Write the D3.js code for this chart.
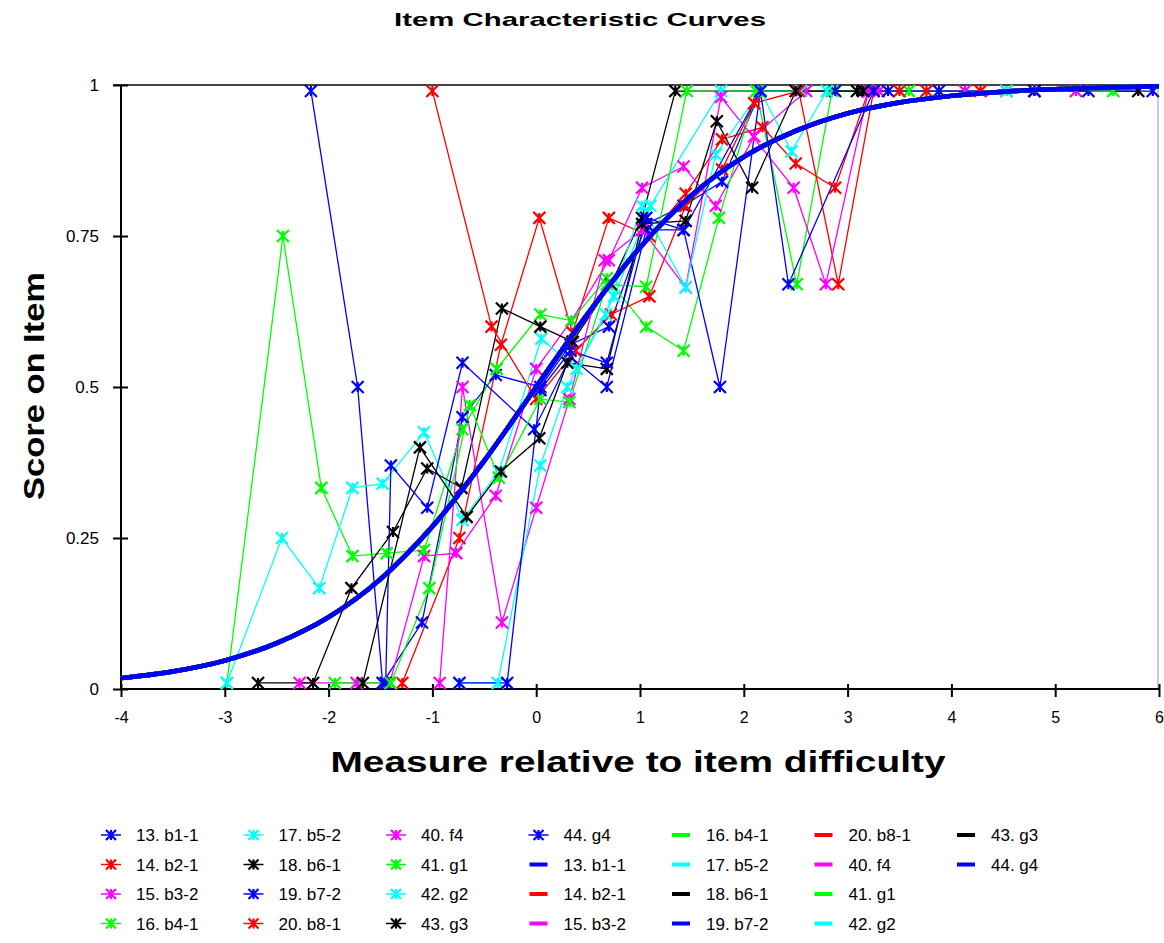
<!DOCTYPE html>
<html>
<head>
<meta charset="utf-8">
<script src="https://cdn.jsdelivr.net/npm/d3@7"></script>
<style>
  html, body { margin: 0; padding: 0; background: #fff; }
  svg { display: block; }
  text { font-family: "Liberation Sans", Arial, sans-serif; }
</style>
</head>
<body>
<svg id="chart" width="1164" height="943"></svg>
<script>
// ---------- DATA ----------
const seriesNames = ["13. b1-1","14. b2-1","15. b3-2","16. b4-1","17. b5-2","18. b6-1","19. b7-2","20. b8-1","40. f4","41. g1","42. g2","43. g3","44. g4"];
const seriesColors = ["#0000ff","#ff0000","#ff00ff","#00ff00","#00ffff","#000000","#0000ff","#ff0000","#ff00ff","#00ff00","#00ffff","#000000","#0000ff"];

// observed scores: [measure, score]
const s13 = [[-2.17,0.99],[-1.72,0.50],[-1.48,0.01],[-1.10,0.11],[-0.71,0.45],[-0.39,0.52],[0.04,0.50],[0.33,0.57],[0.70,0.60],[1.06,0.77],[1.42,0.80],[1.79,0.84],[2.16,0.99],[3.20,0.99],[3.88,0.99]];
const s14 = [[-1.29,0.01],[-0.74,0.25],[-0.34,0.57],[0.03,0.78],[0.35,0.59],[0.70,0.78],[1.09,0.75],[1.44,0.82],[1.79,0.91],[2.18,0.93],[2.50,0.87],[2.88,0.83],[3.20,0.99],[3.76,0.99],[4.53,0.99]];
const s15 = [[-2.28,0.01],[-1.73,0.01],[-1.41,0.01],[-1.08,0.22],[-0.77,0.225],[-0.39,0.32],[0.00,0.53],[0.34,0.61],[0.70,0.71],[1.02,0.83],[1.42,0.865],[1.73,0.80],[2.10,0.915],[2.60,0.99],[3.30,0.99],[4.13,0.99]];
const s16 = [[-2.98,0.01],[-2.44,0.75],[-2.07,0.333],[-1.77,0.22],[-1.44,0.225],[-1.08,0.23],[-0.71,0.43],[-0.38,0.53],[0.04,0.62],[0.34,0.61],[0.68,0.68],[1.06,0.60],[1.42,0.56],[1.76,0.78],[2.12,0.99],[2.51,0.67],[2.85,0.99],[3.59,0.99]];
const s17 = [[-2.98,0.01],[-2.45,0.25],[-2.09,0.167],[-1.77,0.333],[-1.48,0.34],[-1.08,0.425],[-0.71,0.28],[-0.36,0.36],[0.05,0.58],[0.39,0.53],[0.75,0.65],[1.10,0.80],[1.78,0.99],[2.55,0.99],[4.53,0.99]];
const s18 = [[-2.68,0.01],[-2.15,0.01],[-1.78,0.167],[-1.38,0.26],[-1.05,0.365],[-0.72,0.333],[-0.33,0.63],[0.04,0.60],[0.35,0.575],[0.72,0.67],[1.02,0.78],[1.34,0.99],[3.09,0.99],[4.80,0.99],[5.80,0.99]];
const s19 = [[-1.45,0.01],[-1.40,0.37],[-1.05,0.30],[-0.71,0.54],[-0.02,0.43],[0.33,0.55],[0.68,0.50],[1.06,0.76],[1.42,0.76],[1.77,0.50],[2.16,0.99],[2.88,0.99],[3.39,0.99],[4.80,0.99],[5.94,0.99]];
const s20 = [[-1.00,0.99],[-0.43,0.60],[0.00,0.48],[0.38,0.56],[0.72,0.62],[1.09,0.65],[1.44,0.80],[1.79,0.86],[2.10,0.97],[2.53,0.99],[2.91,0.67],[3.25,0.99],[3.50,0.99],[4.28,0.99]];
const s40 = [[-0.93,0.01],[-0.71,0.50],[-0.33,0.11],[0.00,0.30],[0.32,0.48],[0.66,0.71],[1.02,0.76],[1.44,0.665],[1.78,0.98],[2.48,0.83],[2.79,0.67],[3.20,0.99],[5.20,0.99]];
const s41 = [[-1.94,0.01],[-1.40,0.01],[-1.03,0.167],[-0.64,0.47],[-0.36,0.35],[0.04,0.48],[0.32,0.475],[0.68,0.67],[1.06,0.666],[1.45,0.99],[2.15,0.99],[5.56,0.99]];
const s42 = [[-0.74,0.01],[-0.37,0.01],[0.04,0.37],[0.30,0.50],[0.67,0.62],[1.02,0.80],[1.44,0.665],[1.73,0.885],[2.16,0.99],[2.46,0.89],[2.80,0.99]];
const s43 = [[-1.67,0.01],[-1.12,0.40],[-0.67,0.285],[-0.34,0.36],[0.03,0.415],[0.30,0.54],[0.68,0.53],[1.02,0.77],[1.44,0.775],[1.74,0.94],[2.08,0.83],[2.50,0.99],[3.15,0.99]];
const s44 = [[-0.74,0.01],[-0.28,0.01],[0.04,0.495],[0.33,0.56],[0.68,0.54],[1.06,0.78],[1.42,0.76],[2.16,0.99],[2.43,0.67],[3.25,0.99],[5.32,0.99]];
const observed = [s13,s14,s15,s16,s17,s18,s19,s20,s40,s41,s42,s43,s44];

// model curve
const modelX = [-4,-3.5,-3,-2.5,-2,-1.5,-1,-0.5,0,0.5,1,1.5,2,2.5,3,3.5,4,4.5,5,5.5,6];
const modelY = [0.018,0.029,0.047,0.076,0.119,0.182,0.269,0.378,0.5,0.622,0.731,0.818,0.881,0.924,0.953,0.971,0.982,0.989,0.993,0.996,0.998];

const xTicks = [-4,-3,-2,-1,0,1,2,3,4,5,6];
const yTicks = [0,0.25,0.5,0.75,1];

// ---------- DRAW ----------
const svg = d3.select("#chart");
const x = d3.scaleLinear().domain([-4,6]).range([121,1159]);
const y = d3.scaleLinear().domain([0,1]).range([689,85]);

// title
svg.append("text").attr("x",580).attr("y",26).attr("text-anchor","middle")
  .attr("font-size",19).attr("font-weight","bold")
  .attr("textLength",372).attr("lengthAdjust","spacingAndGlyphs")
  .text("Item Characteristic Curves");

// frame (top and right)
svg.append("line").attr("x1",113).attr("x2",1159).attr("y1",y(1)).attr("y2",y(1))
  .attr("stroke","#444").attr("stroke-width",2);
svg.append("line").attr("x1",1158).attr("x2",1158).attr("y1",y(1)).attr("y2",y(0))
  .attr("stroke","#999").attr("stroke-width",1);

// axes
const yAxis = svg.append("g").attr("transform",`translate(${x(-4)},0)`)
  .call(d3.axisLeft(y).tickValues(yTicks).tickSize(7).tickFormat(d => String(d)));
yAxis.select(".domain").remove();
yAxis.selectAll(".tick line").attr("x1",-8).attr("x2",7).attr("stroke","#000").attr("stroke-width",2);
yAxis.selectAll(".tick text").attr("x",-22).attr("font-size",17).attr("font-family","Liberation Sans, Arial, sans-serif").attr("fill","#000");

const xAxis = svg.append("g").attr("transform",`translate(0,${y(0)})`)
  .call(d3.axisBottom(x).tickValues(xTicks).tickSize(7).tickFormat(d => String(d)));
xAxis.select(".domain").remove();
xAxis.selectAll(".tick line").attr("y1",-5).attr("y2",8).attr("stroke","#000").attr("stroke-width",2);
xAxis.selectAll(".tick text").attr("y",23).attr("font-size",16).attr("font-family","Liberation Sans, Arial, sans-serif").attr("fill","#000");

svg.append("line").attr("x1",x(-4)).attr("x2",x(-4)).attr("y1",y(1)).attr("y2",y(0)+1)
  .attr("stroke","#000").attr("stroke-width",2);
svg.append("line").attr("x1",x(-4)-1).attr("x2",x(6)).attr("y1",y(0)).attr("y2",y(0))
  .attr("stroke","#000").attr("stroke-width",2);

// axis titles
svg.append("text").attr("x",638).attr("y",772).attr("text-anchor","middle")
  .attr("font-size",30).attr("font-weight","bold")
  .attr("textLength",615).attr("lengthAdjust","spacingAndGlyphs")
  .text("Measure relative to item difficulty");
svg.append("text").attr("transform","translate(44,386) rotate(-90)").attr("text-anchor","middle")
  .attr("font-size",30).attr("font-weight","bold")
  .attr("textLength",228).attr("lengthAdjust","spacingAndGlyphs")
  .text("Score on Item");

const starPath = "M-6,-6L6,6M-6,6L6,-6M0,-5L0,5";
const line = d3.line().x(d => x(d[0])).y(d => y(d[1]));

// observed series
const plot = svg.append("g");
observed.forEach((pts,i) => {
  plot.append("path").attr("d",line(pts)).attr("fill","none")
    .attr("stroke",seriesColors[i]).attr("stroke-width",1.3);
});
observed.forEach((pts,i) => {
  plot.selectAll(null).data(pts).enter().append("path")
    .attr("d",starPath)
    .attr("transform",d => `translate(${x(d[0])},${y(d[1])})`)
    .attr("fill","none").attr("stroke",seriesColors[i]).attr("stroke-width",2.2);
});

// model curves (one per item, all coincide)
const model = modelX.map((v,k) => [v, modelY[k]]);
const curve = d3.line().x(d => x(d[0])).y(d => y(d[1])).curve(d3.curveMonotoneX);
seriesNames.forEach((n,i) => {
  plot.append("path").attr("d",curve(model)).attr("fill","none")
    .attr("stroke",seriesColors[i]).attr("stroke-width",4.5);
});

// legend
const legendItems = [];
seriesNames.forEach((n,i) => legendItems.push({name:n,color:seriesColors[i],type:"marker"}));
seriesNames.forEach((n,i) => legendItems.push({name:n,color:seriesColors[i],type:"line"}));
const colX = [111,253.5,396,538.5,681,823.5,966];
const rowY = [835,864.5,894,923.5];
const lg = svg.append("g");
legendItems.forEach((it,k) => {
  const c = Math.floor(k/4), r = k%4;
  const cx = colX[c], cy = rowY[r];
  if (it.type === "marker") {
    lg.append("line").attr("x1",cx-10).attr("x2",cx+10).attr("y1",cy).attr("y2",cy)
      .attr("stroke",it.color).attr("stroke-width",1.5);
    lg.append("path").attr("d","M-5,-5L5,5M-5,5L5,-5M0,-5L0,5")
      .attr("transform",`translate(${cx},${cy})`)
      .attr("fill","none").attr("stroke",it.color).attr("stroke-width",2.2);
  } else {
    lg.append("line").attr("x1",cx-9).attr("x2",cx+9).attr("y1",cy).attr("y2",cy)
      .attr("stroke",it.color).attr("stroke-width",4);
  }
  lg.append("text").attr("x",cx+25).attr("y",cy+6).attr("font-size",17).text(it.name);
});
</script>
</body>
</html>
